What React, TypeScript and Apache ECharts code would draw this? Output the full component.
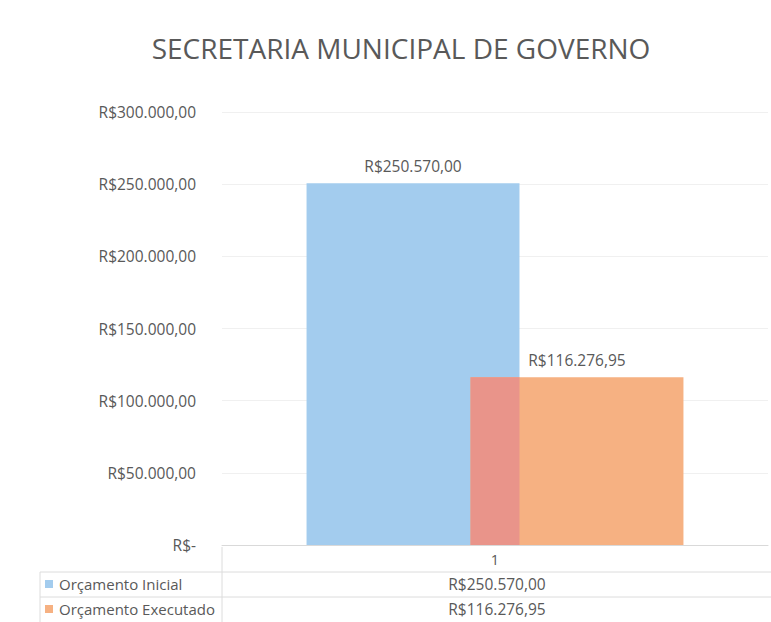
import React, { useEffect, useRef } from "react";
import * as echarts from "echarts";

const TITLE = "SECRETARIA MUNICIPAL DE GOVERNO";
const categories = ["1"];
const seriesNames = ["Orçamento Inicial", "Orçamento Executado"];
const orcamentoInicial = [250570.0];
const orcamentoExecutado = [116276.95];
const yMin = 0;
const yMax = 300000;
const yInterval = 50000;

const BLUE = "#A3CCEE";
const ORANGE = "#F6B182";
const OVERLAP = "#E9948A";
const TEXT = "#595959";
const FONT = "'Open Sans', 'Noto Sans', sans-serif";
const FS = 15.5;

function brl(v: number): string {
  if (v === 0) return "R$-";
  const fixed = v.toFixed(2);
  const [intPart, dec] = fixed.split(".");
  const withDots = intPart.replace(/\B(?=(\d{3})+(?!\d))/g, ".");
  return "R$" + withDots + "," + dec;
}

const BAR_W = 0.39;
const BAR_GAP = -0.23;

export default function App() {
  const ref = useRef<HTMLDivElement>(null);
  useEffect(() => {
    if (!ref.current) return;
    const chart = echarts.init(ref.current, undefined, { renderer: "svg" });

    const tableRows = [
      { name: seriesNames[0], color: BLUE, value: orcamentoInicial[0] },
      { name: seriesNames[1], color: ORANGE, value: orcamentoExecutado[0] },
    ];
    const rowY = [584, 609];
    const graphic: any[] = [
      { type: "line", shape: { x1: 40, y1: 572, x2: 771, y2: 572 }, style: { stroke: "#dcdcdc", lineWidth: 1 } },
      { type: "line", shape: { x1: 40, y1: 597, x2: 771, y2: 597 }, style: { stroke: "#dcdcdc", lineWidth: 1 } },
      { type: "line", shape: { x1: 222, y1: 547, x2: 222, y2: 622 }, style: { stroke: "#dcdcdc", lineWidth: 1 } },
      { type: "line", shape: { x1: 40, y1: 572, x2: 40, y2: 622 }, style: { stroke: "#dcdcdc", lineWidth: 1 } },
    ];
    tableRows.forEach((r, i) => {
      graphic.push({ type: "rect", shape: { x: 45, y: rowY[i] - 4, width: 8, height: 8 }, style: { fill: r.color } });
      graphic.push({
        type: "text", x: 59, y: rowY[i],
        style: { text: r.name, fill: TEXT, font: `15px ${FONT}`, textVerticalAlign: "middle", verticalAlign: "middle" },
      });
      graphic.push({
        type: "text", x: 497, y: rowY[i],
        style: { text: brl(r.value), fill: TEXT, font: `${FS}px ${FONT}`, align: "center", textAlign: "center", verticalAlign: "middle", textVerticalAlign: "middle" },
      });
    });

    const overlapData = categories.map((c, i) => [i, orcamentoInicial[i], orcamentoExecutado[i]]);

    chart.setOption({
      animation: false,
      backgroundColor: "#ffffff",
      title: {
        text: TITLE,
        left: 396,
        top: 29,
        textAlign: "center",
        textStyle: { fontFamily: FONT, fontSize: 28, fontWeight: "normal", color: TEXT },
      },
      grid: { left: 222, right: 3, top: 112, bottom: 77, containLabel: false },
      xAxis: {
        type: "category",
        data: categories,
        axisLine: { show: true, lineStyle: { color: "#d9d9d9" } },
        axisTick: { show: false },
        axisLabel: { color: TEXT, fontFamily: FONT, fontSize: FS - 1, margin: 7 },
      },
      yAxis: {
        type: "value",
        min: yMin,
        max: yMax,
        interval: yInterval,
        axisLine: { show: false },
        axisTick: { show: false },
        splitLine: { lineStyle: { color: "#f0f0f0" } },
        axisLabel: { color: TEXT, fontFamily: FONT, fontSize: FS, margin: 26, formatter: (v: number) => brl(v) },
      },
      series: [
        {
          name: seriesNames[0],
          type: "bar",
          data: orcamentoInicial,
          barWidth: BAR_W * 100 + "%",
          barGap: BAR_GAP * 100 + "%",
          itemStyle: { color: BLUE },
          label: { show: true, position: "top", distance: 9, color: TEXT, fontFamily: FONT, fontSize: FS, formatter: (p: any) => brl(p.value) },
        },
        {
          name: seriesNames[1],
          type: "bar",
          data: orcamentoExecutado,
          barWidth: BAR_W * 100 + "%",
          barGap: BAR_GAP * 100 + "%",
          itemStyle: { color: ORANGE },
          label: { show: true, position: "top", distance: 9, color: TEXT, fontFamily: FONT, fontSize: FS, formatter: (p: any) => brl(p.value) },
        },
        {
          type: "custom",
          z: 5,
          silent: true,
          data: overlapData,
          renderItem: (params: any, api: any) => {
            const idx = api.value(0);
            const a = api.value(1);
            const b = api.value(2);
            const band = api.size([1, 0])[0];
            const bw = band * BAR_W;
            const gap = bw * BAR_GAP;
            const total = 2 * bw + gap;
            const base = api.coord([idx, 0]);
            const top = api.coord([idx, Math.min(a, b)]);
            const left1 = base[0] - total / 2;
            const left2 = left1 + bw + gap;
            const right1 = left1 + bw;
            return {
              type: "rect",
              shape: { x: left2, y: top[1], width: right1 - left2, height: base[1] - top[1] },
              style: { fill: OVERLAP },
            };
          },
        },
      ],
      graphic,
    });
    return () => chart.dispose();
  }, []);
  return <div ref={ref} style={{ position: "fixed", left: 0, top: 0, width: 771, height: 622 }} />;
}
